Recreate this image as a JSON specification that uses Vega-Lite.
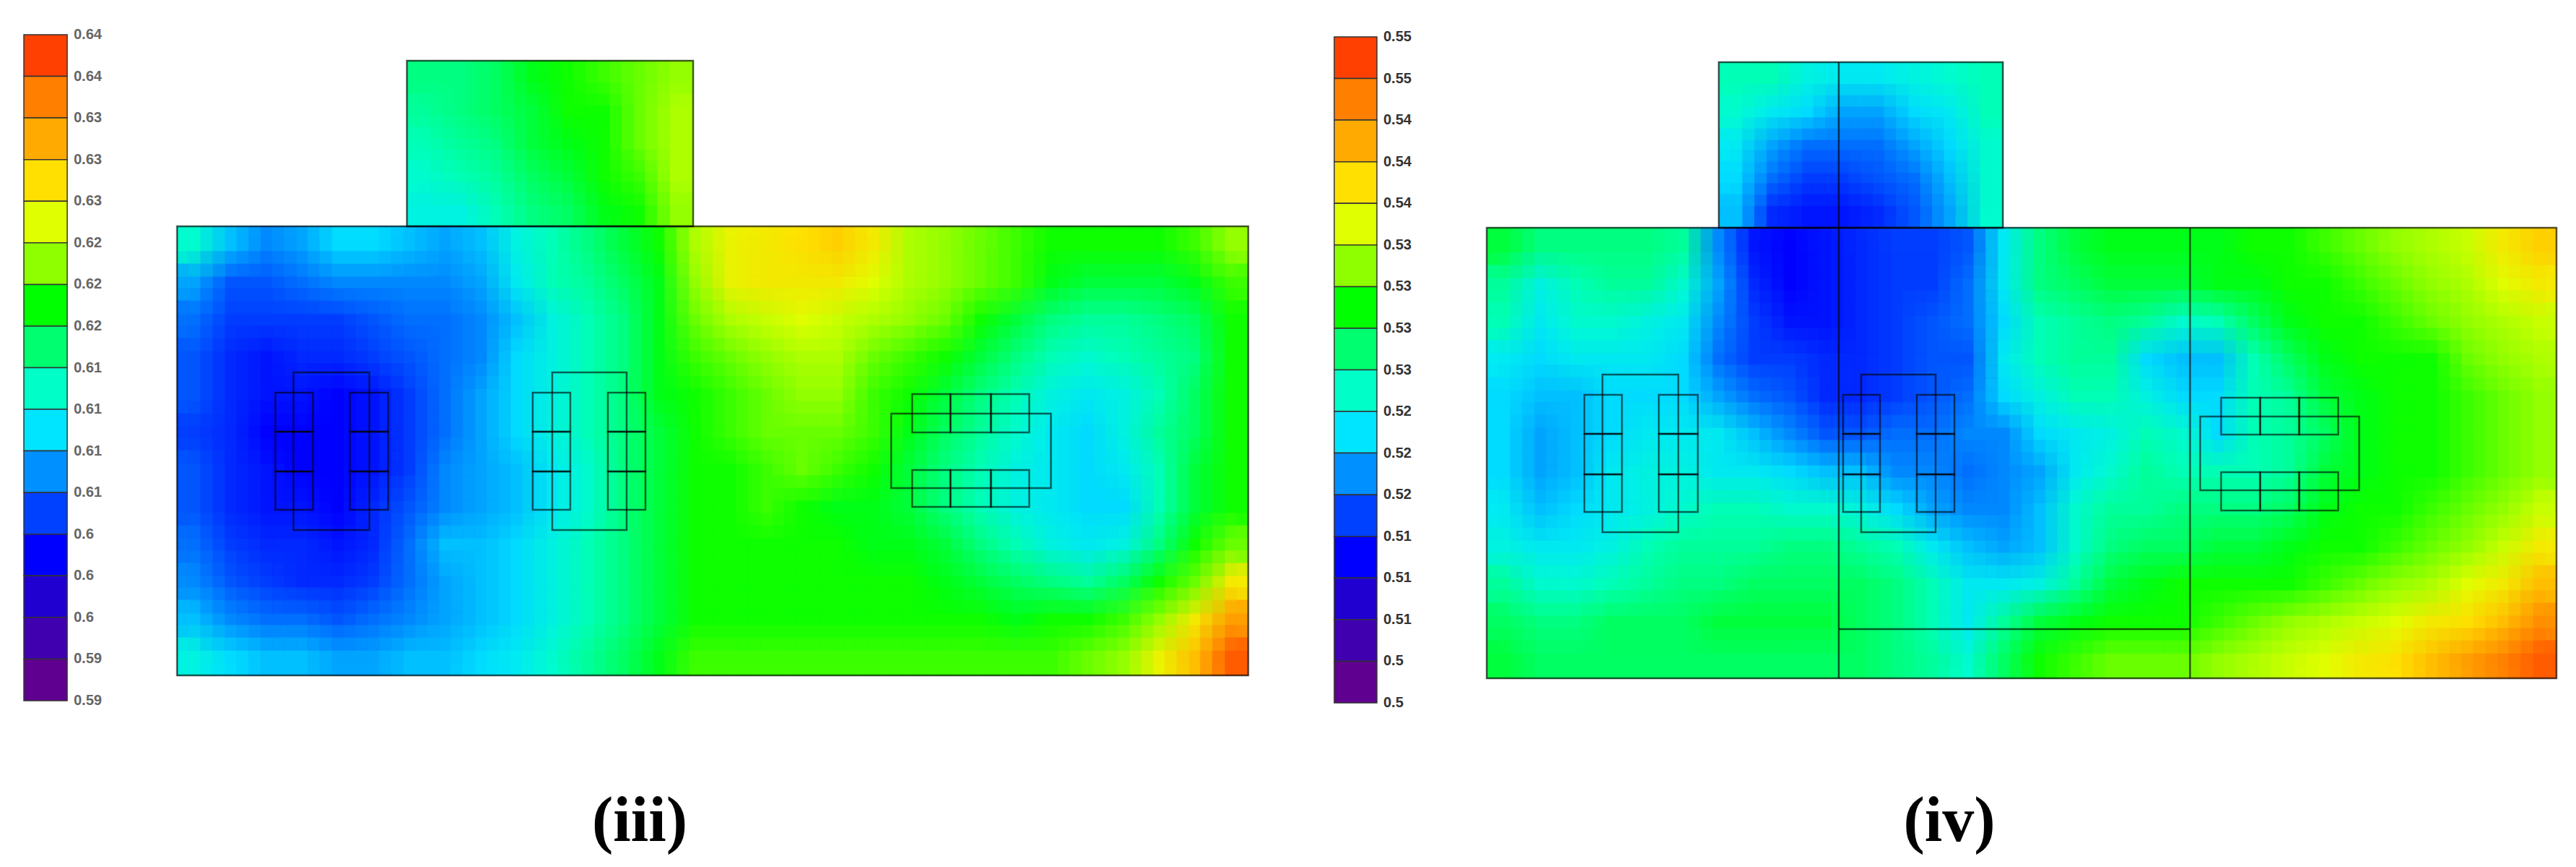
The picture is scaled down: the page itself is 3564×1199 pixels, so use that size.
{"$schema":"https://vega.github.io/schema/vega-lite/v6.json","width":3564,"height":1199,"autosize":{"type":"fit","contains":"padding"},"padding":0,"background":"white","config":{"view":{"stroke":null}},
"datasets":{
"m3":[
{"x":270,"y":339,"v":0.613},{"x":319,"y":339,"v":0.609},{"x":369,"y":339,"v":0.607},{"x":418,"y":339,"v":0.608},{"x":467,"y":339,"v":0.61},{"x":517,"y":339,"v":0.61},{"x":566,"y":339,"v":0.609},{"x":616,"y":339,"v":0.608},{"x":665,"y":339,"v":0.609},{"x":715,"y":339,"v":0.612},{"x":764,"y":339,"v":0.614},{"x":813,"y":339,"v":0.616},{"x":863,"y":339,"v":0.618},{"x":912,"y":339,"v":0.62},{"x":961,"y":339,"v":0.624},{"x":1011,"y":339,"v":0.627},{"x":1060,"y":339,"v":0.628},{"x":1110,"y":339,"v":0.629},{"x":1159,"y":339,"v":0.63},{"x":1208,"y":339,"v":0.628},{"x":1258,"y":339,"v":0.624},{"x":1307,"y":339,"v":0.623},{"x":1357,"y":339,"v":0.622},{"x":1406,"y":339,"v":0.621},{"x":1455,"y":339,"v":0.62},{"x":1505,"y":339,"v":0.62},{"x":1554,"y":339,"v":0.62},{"x":1604,"y":339,"v":0.62},{"x":1653,"y":339,"v":0.621},{"x":1702,"y":339,"v":0.623},
{"x":270,"y":391,"v":0.608},{"x":319,"y":391,"v":0.605},{"x":369,"y":391,"v":0.605},{"x":418,"y":391,"v":0.606},{"x":467,"y":391,"v":0.607},{"x":517,"y":391,"v":0.607},{"x":566,"y":391,"v":0.607},{"x":616,"y":391,"v":0.607},{"x":665,"y":391,"v":0.608},{"x":715,"y":391,"v":0.611},{"x":764,"y":391,"v":0.614},{"x":813,"y":391,"v":0.615},{"x":863,"y":391,"v":0.617},{"x":912,"y":391,"v":0.619},{"x":961,"y":391,"v":0.623},{"x":1011,"y":391,"v":0.627},{"x":1060,"y":391,"v":0.628},{"x":1110,"y":391,"v":0.628},{"x":1159,"y":391,"v":0.628},{"x":1208,"y":391,"v":0.626},{"x":1258,"y":391,"v":0.624},{"x":1307,"y":391,"v":0.623},{"x":1357,"y":391,"v":0.622},{"x":1406,"y":391,"v":0.621},{"x":1455,"y":391,"v":0.619},{"x":1505,"y":391,"v":0.618},{"x":1554,"y":391,"v":0.618},{"x":1604,"y":391,"v":0.618},{"x":1653,"y":391,"v":0.619},{"x":1702,"y":391,"v":0.621},
{"x":270,"y":442,"v":0.606},{"x":319,"y":442,"v":0.604},{"x":369,"y":442,"v":0.604},{"x":418,"y":442,"v":0.604},{"x":467,"y":442,"v":0.604},{"x":517,"y":442,"v":0.605},{"x":566,"y":442,"v":0.606},{"x":616,"y":442,"v":0.606},{"x":665,"y":442,"v":0.607},{"x":715,"y":442,"v":0.609},{"x":764,"y":442,"v":0.612},{"x":813,"y":442,"v":0.614},{"x":863,"y":442,"v":0.616},{"x":912,"y":442,"v":0.619},{"x":961,"y":442,"v":0.622},{"x":1011,"y":442,"v":0.624},{"x":1060,"y":442,"v":0.625},{"x":1110,"y":442,"v":0.626},{"x":1159,"y":442,"v":0.625},{"x":1208,"y":442,"v":0.624},{"x":1258,"y":442,"v":0.623},{"x":1307,"y":442,"v":0.622},{"x":1357,"y":442,"v":0.62},{"x":1406,"y":442,"v":0.618},{"x":1455,"y":442,"v":0.616},{"x":1505,"y":442,"v":0.615},{"x":1554,"y":442,"v":0.615},{"x":1604,"y":442,"v":0.616},{"x":1653,"y":442,"v":0.617},{"x":1702,"y":442,"v":0.62},
{"x":270,"y":494,"v":0.605},{"x":319,"y":494,"v":0.603},{"x":369,"y":494,"v":0.602},{"x":418,"y":494,"v":0.603},{"x":467,"y":494,"v":0.603},{"x":517,"y":494,"v":0.604},{"x":566,"y":494,"v":0.605},{"x":616,"y":494,"v":0.606},{"x":665,"y":494,"v":0.607},{"x":715,"y":494,"v":0.61},{"x":764,"y":494,"v":0.612},{"x":813,"y":494,"v":0.614},{"x":863,"y":494,"v":0.616},{"x":912,"y":494,"v":0.619},{"x":961,"y":494,"v":0.621},{"x":1011,"y":494,"v":0.622},{"x":1060,"y":494,"v":0.623},{"x":1110,"y":494,"v":0.624},{"x":1159,"y":494,"v":0.624},{"x":1208,"y":494,"v":0.622},{"x":1258,"y":494,"v":0.621},{"x":1307,"y":494,"v":0.62},{"x":1357,"y":494,"v":0.618},{"x":1406,"y":494,"v":0.616},{"x":1455,"y":494,"v":0.614},{"x":1505,"y":494,"v":0.613},{"x":1554,"y":494,"v":0.614},{"x":1604,"y":494,"v":0.615},{"x":1653,"y":494,"v":0.616},{"x":1702,"y":494,"v":0.62},
{"x":270,"y":546,"v":0.605},{"x":319,"y":546,"v":0.603},{"x":369,"y":546,"v":0.602},{"x":418,"y":546,"v":0.602},{"x":467,"y":546,"v":0.601},{"x":517,"y":546,"v":0.602},{"x":566,"y":546,"v":0.604},{"x":616,"y":546,"v":0.606},{"x":665,"y":546,"v":0.608},{"x":715,"y":546,"v":0.61},{"x":764,"y":546,"v":0.612},{"x":813,"y":546,"v":0.614},{"x":863,"y":546,"v":0.616},{"x":912,"y":546,"v":0.619},{"x":961,"y":546,"v":0.62},{"x":1011,"y":546,"v":0.621},{"x":1060,"y":546,"v":0.622},{"x":1110,"y":546,"v":0.623},{"x":1159,"y":546,"v":0.623},{"x":1208,"y":546,"v":0.621},{"x":1258,"y":546,"v":0.62},{"x":1307,"y":546,"v":0.618},{"x":1357,"y":546,"v":0.616},{"x":1406,"y":546,"v":0.614},{"x":1455,"y":546,"v":0.612},{"x":1505,"y":546,"v":0.611},{"x":1554,"y":546,"v":0.612},{"x":1604,"y":546,"v":0.614},{"x":1653,"y":546,"v":0.617},{"x":1702,"y":546,"v":0.62},
{"x":270,"y":598,"v":0.604},{"x":319,"y":598,"v":0.603},{"x":369,"y":598,"v":0.601},{"x":418,"y":598,"v":0.601},{"x":467,"y":598,"v":0.601},{"x":517,"y":598,"v":0.602},{"x":566,"y":598,"v":0.604},{"x":616,"y":598,"v":0.606},{"x":665,"y":598,"v":0.608},{"x":715,"y":598,"v":0.61},{"x":764,"y":598,"v":0.612},{"x":813,"y":598,"v":0.614},{"x":863,"y":598,"v":0.616},{"x":912,"y":598,"v":0.618},{"x":961,"y":598,"v":0.62},{"x":1011,"y":598,"v":0.621},{"x":1060,"y":598,"v":0.622},{"x":1110,"y":598,"v":0.622},{"x":1159,"y":598,"v":0.622},{"x":1208,"y":598,"v":0.621},{"x":1258,"y":598,"v":0.619},{"x":1307,"y":598,"v":0.617},{"x":1357,"y":598,"v":0.615},{"x":1406,"y":598,"v":0.613},{"x":1455,"y":598,"v":0.611},{"x":1505,"y":598,"v":0.61},{"x":1554,"y":598,"v":0.612},{"x":1604,"y":598,"v":0.615},{"x":1653,"y":598,"v":0.617},{"x":1702,"y":598,"v":0.62},
{"x":270,"y":649,"v":0.605},{"x":319,"y":649,"v":0.603},{"x":369,"y":649,"v":0.602},{"x":418,"y":649,"v":0.601},{"x":467,"y":649,"v":0.601},{"x":517,"y":649,"v":0.602},{"x":566,"y":649,"v":0.604},{"x":616,"y":649,"v":0.607},{"x":665,"y":649,"v":0.608},{"x":715,"y":649,"v":0.609},{"x":764,"y":649,"v":0.611},{"x":813,"y":649,"v":0.613},{"x":863,"y":649,"v":0.616},{"x":912,"y":649,"v":0.618},{"x":961,"y":649,"v":0.62},{"x":1011,"y":649,"v":0.62},{"x":1060,"y":649,"v":0.621},{"x":1110,"y":649,"v":0.622},{"x":1159,"y":649,"v":0.621},{"x":1208,"y":649,"v":0.62},{"x":1258,"y":649,"v":0.618},{"x":1307,"y":649,"v":0.616},{"x":1357,"y":649,"v":0.614},{"x":1406,"y":649,"v":0.612},{"x":1455,"y":649,"v":0.611},{"x":1505,"y":649,"v":0.61},{"x":1554,"y":649,"v":0.611},{"x":1604,"y":649,"v":0.614},{"x":1653,"y":649,"v":0.618},{"x":1702,"y":649,"v":0.62},
{"x":270,"y":701,"v":0.605},{"x":319,"y":701,"v":0.603},{"x":369,"y":701,"v":0.602},{"x":418,"y":701,"v":0.602},{"x":467,"y":701,"v":0.601},{"x":517,"y":701,"v":0.603},{"x":566,"y":701,"v":0.605},{"x":616,"y":701,"v":0.607},{"x":665,"y":701,"v":0.608},{"x":715,"y":701,"v":0.609},{"x":764,"y":701,"v":0.611},{"x":813,"y":701,"v":0.613},{"x":863,"y":701,"v":0.616},{"x":912,"y":701,"v":0.618},{"x":961,"y":701,"v":0.62},{"x":1011,"y":701,"v":0.62},{"x":1060,"y":701,"v":0.621},{"x":1110,"y":701,"v":0.62},{"x":1159,"y":701,"v":0.619},{"x":1208,"y":701,"v":0.619},{"x":1258,"y":701,"v":0.618},{"x":1307,"y":701,"v":0.616},{"x":1357,"y":701,"v":0.614},{"x":1406,"y":701,"v":0.612},{"x":1455,"y":701,"v":0.611},{"x":1505,"y":701,"v":0.61},{"x":1554,"y":701,"v":0.61},{"x":1604,"y":701,"v":0.614},{"x":1653,"y":701,"v":0.618},{"x":1702,"y":701,"v":0.62},
{"x":270,"y":753,"v":0.606},{"x":319,"y":753,"v":0.604},{"x":369,"y":753,"v":0.603},{"x":418,"y":753,"v":0.603},{"x":467,"y":753,"v":0.602},{"x":517,"y":753,"v":0.603},{"x":566,"y":753,"v":0.606},{"x":616,"y":753,"v":0.609},{"x":665,"y":753,"v":0.609},{"x":715,"y":753,"v":0.61},{"x":764,"y":753,"v":0.612},{"x":813,"y":753,"v":0.614},{"x":863,"y":753,"v":0.616},{"x":912,"y":753,"v":0.618},{"x":961,"y":753,"v":0.62},{"x":1011,"y":753,"v":0.62},{"x":1060,"y":753,"v":0.62},{"x":1110,"y":753,"v":0.62},{"x":1159,"y":753,"v":0.62},{"x":1208,"y":753,"v":0.619},{"x":1258,"y":753,"v":0.619},{"x":1307,"y":753,"v":0.618},{"x":1357,"y":753,"v":0.616},{"x":1406,"y":753,"v":0.614},{"x":1455,"y":753,"v":0.612},{"x":1505,"y":753,"v":0.611},{"x":1554,"y":753,"v":0.612},{"x":1604,"y":753,"v":0.616},{"x":1653,"y":753,"v":0.62},{"x":1702,"y":753,"v":0.622},
{"x":270,"y":805,"v":0.607},{"x":319,"y":805,"v":0.605},{"x":369,"y":805,"v":0.604},{"x":418,"y":805,"v":0.603},{"x":467,"y":805,"v":0.603},{"x":517,"y":805,"v":0.604},{"x":566,"y":805,"v":0.606},{"x":616,"y":805,"v":0.608},{"x":665,"y":805,"v":0.609},{"x":715,"y":805,"v":0.61},{"x":764,"y":805,"v":0.612},{"x":813,"y":805,"v":0.614},{"x":863,"y":805,"v":0.616},{"x":912,"y":805,"v":0.618},{"x":961,"y":805,"v":0.62},{"x":1011,"y":805,"v":0.62},{"x":1060,"y":805,"v":0.62},{"x":1110,"y":805,"v":0.62},{"x":1159,"y":805,"v":0.62},{"x":1208,"y":805,"v":0.62},{"x":1258,"y":805,"v":0.62},{"x":1307,"y":805,"v":0.619},{"x":1357,"y":805,"v":0.618},{"x":1406,"y":805,"v":0.617},{"x":1455,"y":805,"v":0.616},{"x":1505,"y":805,"v":0.615},{"x":1554,"y":805,"v":0.617},{"x":1604,"y":805,"v":0.62},{"x":1653,"y":805,"v":0.622},{"x":1702,"y":805,"v":0.628},
{"x":270,"y":856,"v":0.609},{"x":319,"y":856,"v":0.607},{"x":369,"y":856,"v":0.606},{"x":418,"y":856,"v":0.606},{"x":467,"y":856,"v":0.605},{"x":517,"y":856,"v":0.606},{"x":566,"y":856,"v":0.607},{"x":616,"y":856,"v":0.608},{"x":665,"y":856,"v":0.609},{"x":715,"y":856,"v":0.61},{"x":764,"y":856,"v":0.612},{"x":813,"y":856,"v":0.614},{"x":863,"y":856,"v":0.616},{"x":912,"y":856,"v":0.618},{"x":961,"y":856,"v":0.62},{"x":1011,"y":856,"v":0.62},{"x":1060,"y":856,"v":0.62},{"x":1110,"y":856,"v":0.62},{"x":1159,"y":856,"v":0.62},{"x":1208,"y":856,"v":0.62},{"x":1258,"y":856,"v":0.62},{"x":1307,"y":856,"v":0.62},{"x":1357,"y":856,"v":0.62},{"x":1406,"y":856,"v":0.619},{"x":1455,"y":856,"v":0.62},{"x":1505,"y":856,"v":0.62},{"x":1554,"y":856,"v":0.621},{"x":1604,"y":856,"v":0.623},{"x":1653,"y":856,"v":0.628},{"x":1702,"y":856,"v":0.633},
{"x":270,"y":908,"v":0.612},{"x":319,"y":908,"v":0.61},{"x":369,"y":908,"v":0.609},{"x":418,"y":908,"v":0.609},{"x":467,"y":908,"v":0.608},{"x":517,"y":908,"v":0.608},{"x":566,"y":908,"v":0.609},{"x":616,"y":908,"v":0.609},{"x":665,"y":908,"v":0.61},{"x":715,"y":908,"v":0.611},{"x":764,"y":908,"v":0.613},{"x":813,"y":908,"v":0.615},{"x":863,"y":908,"v":0.617},{"x":912,"y":908,"v":0.619},{"x":961,"y":908,"v":0.621},{"x":1011,"y":908,"v":0.621},{"x":1060,"y":908,"v":0.621},{"x":1110,"y":908,"v":0.621},{"x":1159,"y":908,"v":0.621},{"x":1208,"y":908,"v":0.621},{"x":1258,"y":908,"v":0.621},{"x":1307,"y":908,"v":0.621},{"x":1357,"y":908,"v":0.621},{"x":1406,"y":908,"v":0.621},{"x":1455,"y":908,"v":0.621},{"x":1505,"y":908,"v":0.622},{"x":1554,"y":908,"v":0.623},{"x":1604,"y":908,"v":0.627},{"x":1653,"y":908,"v":0.631},{"x":1702,"y":908,"v":0.637}
],
"r3":[
{"x":588,"y":107,"v":0.616},{"x":637,"y":107,"v":0.616},{"x":687,"y":107,"v":0.617},{"x":736,"y":107,"v":0.619},{"x":786,"y":107,"v":0.62},{"x":835,"y":107,"v":0.621},{"x":885,"y":107,"v":0.622},{"x":934,"y":107,"v":0.623},
{"x":588,"y":153,"v":0.615},{"x":637,"y":153,"v":0.616},{"x":687,"y":153,"v":0.617},{"x":736,"y":153,"v":0.618},{"x":786,"y":153,"v":0.62},{"x":835,"y":153,"v":0.62},{"x":885,"y":153,"v":0.622},{"x":934,"y":153,"v":0.624},
{"x":588,"y":199,"v":0.614},{"x":637,"y":199,"v":0.615},{"x":687,"y":199,"v":0.616},{"x":736,"y":199,"v":0.618},{"x":786,"y":199,"v":0.619},{"x":835,"y":199,"v":0.62},{"x":885,"y":199,"v":0.622},{"x":934,"y":199,"v":0.624},
{"x":588,"y":245,"v":0.613},{"x":637,"y":245,"v":0.614},{"x":687,"y":245,"v":0.615},{"x":736,"y":245,"v":0.617},{"x":786,"y":245,"v":0.618},{"x":835,"y":245,"v":0.62},{"x":885,"y":245,"v":0.621},{"x":934,"y":245,"v":0.624},
{"x":588,"y":290,"v":0.612},{"x":637,"y":290,"v":0.612},{"x":687,"y":290,"v":0.614},{"x":736,"y":290,"v":0.616},{"x":786,"y":290,"v":0.617},{"x":835,"y":290,"v":0.619},{"x":885,"y":290,"v":0.62},{"x":934,"y":290,"v":0.623}
],
"m4":[
{"x":2082,"y":341,"v":0.528},{"x":2131,"y":341,"v":0.526},{"x":2180,"y":341,"v":0.526},{"x":2230,"y":341,"v":0.526},{"x":2279,"y":341,"v":0.526},{"x":2328,"y":341,"v":0.525},{"x":2378,"y":341,"v":0.517},{"x":2427,"y":341,"v":0.512},{"x":2476,"y":341,"v":0.511},{"x":2526,"y":341,"v":0.512},{"x":2575,"y":341,"v":0.513},{"x":2624,"y":341,"v":0.514},{"x":2674,"y":341,"v":0.514},{"x":2723,"y":341,"v":0.515},{"x":2772,"y":341,"v":0.521},{"x":2822,"y":341,"v":0.526},{"x":2871,"y":341,"v":0.528},{"x":2920,"y":341,"v":0.529},{"x":2970,"y":341,"v":0.529},{"x":3019,"y":341,"v":0.529},{"x":3068,"y":341,"v":0.529},{"x":3118,"y":341,"v":0.53},{"x":3167,"y":341,"v":0.53},{"x":3216,"y":341,"v":0.531},{"x":3266,"y":341,"v":0.532},{"x":3315,"y":341,"v":0.533},{"x":3364,"y":341,"v":0.534},{"x":3414,"y":341,"v":0.535},{"x":3463,"y":341,"v":0.538},{"x":3512,"y":341,"v":0.54},
{"x":2082,"y":393,"v":0.525},{"x":2131,"y":393,"v":0.522},{"x":2180,"y":393,"v":0.524},{"x":2230,"y":393,"v":0.525},{"x":2279,"y":393,"v":0.525},{"x":2328,"y":393,"v":0.523},{"x":2378,"y":393,"v":0.518},{"x":2427,"y":393,"v":0.513},{"x":2476,"y":393,"v":0.511},{"x":2526,"y":393,"v":0.512},{"x":2575,"y":393,"v":0.513},{"x":2624,"y":393,"v":0.514},{"x":2674,"y":393,"v":0.514},{"x":2723,"y":393,"v":0.516},{"x":2772,"y":393,"v":0.521},{"x":2822,"y":393,"v":0.526},{"x":2871,"y":393,"v":0.527},{"x":2920,"y":393,"v":0.528},{"x":2970,"y":393,"v":0.528},{"x":3019,"y":393,"v":0.528},{"x":3068,"y":393,"v":0.529},{"x":3118,"y":393,"v":0.529},{"x":3167,"y":393,"v":0.53},{"x":3216,"y":393,"v":0.53},{"x":3266,"y":393,"v":0.531},{"x":3315,"y":393,"v":0.532},{"x":3364,"y":393,"v":0.533},{"x":3414,"y":393,"v":0.534},{"x":3463,"y":393,"v":0.536},{"x":3512,"y":393,"v":0.538},
{"x":2082,"y":445,"v":0.524},{"x":2131,"y":445,"v":0.521},{"x":2180,"y":445,"v":0.523},{"x":2230,"y":445,"v":0.523},{"x":2279,"y":445,"v":0.522},{"x":2328,"y":445,"v":0.521},{"x":2378,"y":445,"v":0.517},{"x":2427,"y":445,"v":0.514},{"x":2476,"y":445,"v":0.512},{"x":2526,"y":445,"v":0.512},{"x":2575,"y":445,"v":0.513},{"x":2624,"y":445,"v":0.514},{"x":2674,"y":445,"v":0.515},{"x":2723,"y":445,"v":0.516},{"x":2772,"y":445,"v":0.52},{"x":2822,"y":445,"v":0.524},{"x":2871,"y":445,"v":0.525},{"x":2920,"y":445,"v":0.526},{"x":2970,"y":445,"v":0.525},{"x":3019,"y":445,"v":0.523},{"x":3068,"y":445,"v":0.524},{"x":3118,"y":445,"v":0.527},{"x":3167,"y":445,"v":0.529},{"x":3216,"y":445,"v":0.53},{"x":3266,"y":445,"v":0.53},{"x":3315,"y":445,"v":0.531},{"x":3364,"y":445,"v":0.532},{"x":3414,"y":445,"v":0.533},{"x":3463,"y":445,"v":0.534},{"x":3512,"y":445,"v":0.535},
{"x":2082,"y":497,"v":0.521},{"x":2131,"y":497,"v":0.52},{"x":2180,"y":497,"v":0.521},{"x":2230,"y":497,"v":0.521},{"x":2279,"y":497,"v":0.521},{"x":2328,"y":497,"v":0.52},{"x":2378,"y":497,"v":0.516},{"x":2427,"y":497,"v":0.514},{"x":2476,"y":497,"v":0.514},{"x":2526,"y":497,"v":0.513},{"x":2575,"y":497,"v":0.513},{"x":2624,"y":497,"v":0.514},{"x":2674,"y":497,"v":0.515},{"x":2723,"y":497,"v":0.515},{"x":2772,"y":497,"v":0.521},{"x":2822,"y":497,"v":0.524},{"x":2871,"y":497,"v":0.525},{"x":2920,"y":497,"v":0.525},{"x":2970,"y":497,"v":0.52},{"x":3019,"y":497,"v":0.519},{"x":3068,"y":497,"v":0.519},{"x":3118,"y":497,"v":0.524},{"x":3167,"y":497,"v":0.527},{"x":3216,"y":497,"v":0.529},{"x":3266,"y":497,"v":0.53},{"x":3315,"y":497,"v":0.53},{"x":3364,"y":497,"v":0.53},{"x":3414,"y":497,"v":0.532},{"x":3463,"y":497,"v":0.533},{"x":3512,"y":497,"v":0.534},
{"x":2082,"y":548,"v":0.52},{"x":2131,"y":548,"v":0.519},{"x":2180,"y":548,"v":0.519},{"x":2230,"y":548,"v":0.52},{"x":2279,"y":548,"v":0.52},{"x":2328,"y":548,"v":0.52},{"x":2378,"y":548,"v":0.518},{"x":2427,"y":548,"v":0.516},{"x":2476,"y":548,"v":0.515},{"x":2526,"y":548,"v":0.513},{"x":2575,"y":548,"v":0.513},{"x":2624,"y":548,"v":0.514},{"x":2674,"y":548,"v":0.515},{"x":2723,"y":548,"v":0.516},{"x":2772,"y":548,"v":0.52},{"x":2822,"y":548,"v":0.522},{"x":2871,"y":548,"v":0.524},{"x":2920,"y":548,"v":0.524},{"x":2970,"y":548,"v":0.522},{"x":3019,"y":548,"v":0.52},{"x":3068,"y":548,"v":0.52},{"x":3118,"y":548,"v":0.524},{"x":3167,"y":548,"v":0.525},{"x":3216,"y":548,"v":0.528},{"x":3266,"y":548,"v":0.529},{"x":3315,"y":548,"v":0.53},{"x":3364,"y":548,"v":0.53},{"x":3414,"y":548,"v":0.531},{"x":3463,"y":548,"v":0.532},{"x":3512,"y":548,"v":0.533},
{"x":2082,"y":600,"v":0.52},{"x":2131,"y":600,"v":0.518},{"x":2180,"y":600,"v":0.519},{"x":2230,"y":600,"v":0.52},{"x":2279,"y":600,"v":0.521},{"x":2328,"y":600,"v":0.521},{"x":2378,"y":600,"v":0.521},{"x":2427,"y":600,"v":0.519},{"x":2476,"y":600,"v":0.517},{"x":2526,"y":600,"v":0.515},{"x":2575,"y":600,"v":0.515},{"x":2624,"y":600,"v":0.516},{"x":2674,"y":600,"v":0.516},{"x":2723,"y":600,"v":0.517},{"x":2772,"y":600,"v":0.517},{"x":2822,"y":600,"v":0.52},{"x":2871,"y":600,"v":0.521},{"x":2920,"y":600,"v":0.522},{"x":2970,"y":600,"v":0.524},{"x":3019,"y":600,"v":0.523},{"x":3068,"y":600,"v":0.52},{"x":3118,"y":600,"v":0.524},{"x":3167,"y":600,"v":0.525},{"x":3216,"y":600,"v":0.527},{"x":3266,"y":600,"v":0.529},{"x":3315,"y":600,"v":0.53},{"x":3364,"y":600,"v":0.53},{"x":3414,"y":600,"v":0.531},{"x":3463,"y":600,"v":0.532},{"x":3512,"y":600,"v":0.533},
{"x":2082,"y":652,"v":0.52},{"x":2131,"y":652,"v":0.518},{"x":2180,"y":652,"v":0.519},{"x":2230,"y":652,"v":0.521},{"x":2279,"y":652,"v":0.522},{"x":2328,"y":652,"v":0.522},{"x":2378,"y":652,"v":0.521},{"x":2427,"y":652,"v":0.521},{"x":2476,"y":652,"v":0.52},{"x":2526,"y":652,"v":0.519},{"x":2575,"y":652,"v":0.519},{"x":2624,"y":652,"v":0.517},{"x":2674,"y":652,"v":0.517},{"x":2723,"y":652,"v":0.516},{"x":2772,"y":652,"v":0.517},{"x":2822,"y":652,"v":0.518},{"x":2871,"y":652,"v":0.521},{"x":2920,"y":652,"v":0.523},{"x":2970,"y":652,"v":0.525},{"x":3019,"y":652,"v":0.524},{"x":3068,"y":652,"v":0.524},{"x":3118,"y":652,"v":0.524},{"x":3167,"y":652,"v":0.525},{"x":3216,"y":652,"v":0.528},{"x":3266,"y":652,"v":0.529},{"x":3315,"y":652,"v":0.53},{"x":3364,"y":652,"v":0.53},{"x":3414,"y":652,"v":0.531},{"x":3463,"y":652,"v":0.532},{"x":3512,"y":652,"v":0.533},
{"x":2082,"y":704,"v":0.521},{"x":2131,"y":704,"v":0.519},{"x":2180,"y":704,"v":0.52},{"x":2230,"y":704,"v":0.521},{"x":2279,"y":704,"v":0.522},{"x":2328,"y":704,"v":0.523},{"x":2378,"y":704,"v":0.524},{"x":2427,"y":704,"v":0.524},{"x":2476,"y":704,"v":0.523},{"x":2526,"y":704,"v":0.523},{"x":2575,"y":704,"v":0.522},{"x":2624,"y":704,"v":0.52},{"x":2674,"y":704,"v":0.518},{"x":2723,"y":704,"v":0.517},{"x":2772,"y":704,"v":0.517},{"x":2822,"y":704,"v":0.519},{"x":2871,"y":704,"v":0.523},{"x":2920,"y":704,"v":0.525},{"x":2970,"y":704,"v":0.525},{"x":3019,"y":704,"v":0.526},{"x":3068,"y":704,"v":0.526},{"x":3118,"y":704,"v":0.526},{"x":3167,"y":704,"v":0.527},{"x":3216,"y":704,"v":0.529},{"x":3266,"y":704,"v":0.53},{"x":3315,"y":704,"v":0.53},{"x":3364,"y":704,"v":0.531},{"x":3414,"y":704,"v":0.532},{"x":3463,"y":704,"v":0.533},{"x":3512,"y":704,"v":0.535},
{"x":2082,"y":756,"v":0.522},{"x":2131,"y":756,"v":0.521},{"x":2180,"y":756,"v":0.521},{"x":2230,"y":756,"v":0.522},{"x":2279,"y":756,"v":0.524},{"x":2328,"y":756,"v":0.525},{"x":2378,"y":756,"v":0.525},{"x":2427,"y":756,"v":0.525},{"x":2476,"y":756,"v":0.526},{"x":2526,"y":756,"v":0.526},{"x":2575,"y":756,"v":0.525},{"x":2624,"y":756,"v":0.524},{"x":2674,"y":756,"v":0.521},{"x":2723,"y":756,"v":0.519},{"x":2772,"y":756,"v":0.518},{"x":2822,"y":756,"v":0.519},{"x":2871,"y":756,"v":0.523},{"x":2920,"y":756,"v":0.526},{"x":2970,"y":756,"v":0.527},{"x":3019,"y":756,"v":0.527},{"x":3068,"y":756,"v":0.528},{"x":3118,"y":756,"v":0.528},{"x":3167,"y":756,"v":0.529},{"x":3216,"y":756,"v":0.53},{"x":3266,"y":756,"v":0.53},{"x":3315,"y":756,"v":0.531},{"x":3364,"y":756,"v":0.532},{"x":3414,"y":756,"v":0.533},{"x":3463,"y":756,"v":0.535},{"x":3512,"y":756,"v":0.538},
{"x":2082,"y":808,"v":0.525},{"x":2131,"y":808,"v":0.523},{"x":2180,"y":808,"v":0.523},{"x":2230,"y":808,"v":0.524},{"x":2279,"y":808,"v":0.525},{"x":2328,"y":808,"v":0.526},{"x":2378,"y":808,"v":0.526},{"x":2427,"y":808,"v":0.527},{"x":2476,"y":808,"v":0.527},{"x":2526,"y":808,"v":0.527},{"x":2575,"y":808,"v":0.527},{"x":2624,"y":808,"v":0.526},{"x":2674,"y":808,"v":0.524},{"x":2723,"y":808,"v":0.521},{"x":2772,"y":808,"v":0.521},{"x":2822,"y":808,"v":0.522},{"x":2871,"y":808,"v":0.525},{"x":2920,"y":808,"v":0.528},{"x":2970,"y":808,"v":0.529},{"x":3019,"y":808,"v":0.53},{"x":3068,"y":808,"v":0.53},{"x":3118,"y":808,"v":0.53},{"x":3167,"y":808,"v":0.53},{"x":3216,"y":808,"v":0.531},{"x":3266,"y":808,"v":0.532},{"x":3315,"y":808,"v":0.533},{"x":3364,"y":808,"v":0.534},{"x":3414,"y":808,"v":0.536},{"x":3463,"y":808,"v":0.538},{"x":3512,"y":808,"v":0.541},
{"x":2082,"y":860,"v":0.527},{"x":2131,"y":860,"v":0.526},{"x":2180,"y":860,"v":0.526},{"x":2230,"y":860,"v":0.527},{"x":2279,"y":860,"v":0.527},{"x":2328,"y":860,"v":0.527},{"x":2378,"y":860,"v":0.528},{"x":2427,"y":860,"v":0.528},{"x":2476,"y":860,"v":0.528},{"x":2526,"y":860,"v":0.528},{"x":2575,"y":860,"v":0.527},{"x":2624,"y":860,"v":0.526},{"x":2674,"y":860,"v":0.524},{"x":2723,"y":860,"v":0.521},{"x":2772,"y":860,"v":0.525},{"x":2822,"y":860,"v":0.528},{"x":2871,"y":860,"v":0.529},{"x":2920,"y":860,"v":0.53},{"x":2970,"y":860,"v":0.53},{"x":3019,"y":860,"v":0.53},{"x":3068,"y":860,"v":0.531},{"x":3118,"y":860,"v":0.532},{"x":3167,"y":860,"v":0.533},{"x":3216,"y":860,"v":0.534},{"x":3266,"y":860,"v":0.535},{"x":3315,"y":860,"v":0.536},{"x":3364,"y":860,"v":0.538},{"x":3414,"y":860,"v":0.539},{"x":3463,"y":860,"v":0.541},{"x":3512,"y":860,"v":0.544},
{"x":2082,"y":912,"v":0.528},{"x":2131,"y":912,"v":0.527},{"x":2180,"y":912,"v":0.527},{"x":2230,"y":912,"v":0.527},{"x":2279,"y":912,"v":0.527},{"x":2328,"y":912,"v":0.527},{"x":2378,"y":912,"v":0.527},{"x":2427,"y":912,"v":0.527},{"x":2476,"y":912,"v":0.527},{"x":2526,"y":912,"v":0.527},{"x":2575,"y":912,"v":0.527},{"x":2624,"y":912,"v":0.526},{"x":2674,"y":912,"v":0.525},{"x":2723,"y":912,"v":0.523},{"x":2772,"y":912,"v":0.527},{"x":2822,"y":912,"v":0.53},{"x":2871,"y":912,"v":0.531},{"x":2920,"y":912,"v":0.532},{"x":2970,"y":912,"v":0.532},{"x":3019,"y":912,"v":0.532},{"x":3068,"y":912,"v":0.533},{"x":3118,"y":912,"v":0.534},{"x":3167,"y":912,"v":0.535},{"x":3216,"y":912,"v":0.536},{"x":3266,"y":912,"v":0.538},{"x":3315,"y":912,"v":0.539},{"x":3364,"y":912,"v":0.541},{"x":3414,"y":912,"v":0.543},{"x":3463,"y":912,"v":0.545},{"x":3512,"y":912,"v":0.547}
],
"r4":[
{"x":2403,"y":109,"v":0.524},{"x":2452,"y":109,"v":0.524},{"x":2501,"y":109,"v":0.522},{"x":2550,"y":109,"v":0.521},{"x":2599,"y":109,"v":0.521},{"x":2648,"y":109,"v":0.522},{"x":2698,"y":109,"v":0.523},{"x":2747,"y":109,"v":0.524},
{"x":2403,"y":155,"v":0.523},{"x":2452,"y":155,"v":0.521},{"x":2501,"y":155,"v":0.52},{"x":2550,"y":155,"v":0.518},{"x":2599,"y":155,"v":0.518},{"x":2648,"y":155,"v":0.52},{"x":2698,"y":155,"v":0.521},{"x":2747,"y":155,"v":0.524},
{"x":2403,"y":201,"v":0.521},{"x":2452,"y":201,"v":0.518},{"x":2501,"y":201,"v":0.516},{"x":2550,"y":201,"v":0.516},{"x":2599,"y":201,"v":0.516},{"x":2648,"y":201,"v":0.518},{"x":2698,"y":201,"v":0.52},{"x":2747,"y":201,"v":0.523},
{"x":2403,"y":246,"v":0.52},{"x":2452,"y":246,"v":0.516},{"x":2501,"y":246,"v":0.514},{"x":2550,"y":246,"v":0.514},{"x":2599,"y":246,"v":0.515},{"x":2648,"y":246,"v":0.516},{"x":2698,"y":246,"v":0.519},{"x":2747,"y":246,"v":0.523},
{"x":2403,"y":292,"v":0.519},{"x":2452,"y":292,"v":0.513},{"x":2501,"y":292,"v":0.512},{"x":2550,"y":292,"v":0.512},{"x":2599,"y":292,"v":0.513},{"x":2648,"y":292,"v":0.515},{"x":2698,"y":292,"v":0.518},{"x":2747,"y":292,"v":0.523}
],
"key3":[
{"x":33,"x2":93,"y":48,"y2":105.6,"v":0.6384},{"x":33,"x2":93,"y":105.6,"y2":163.1,"v":0.6353},{"x":33,"x2":93,"y":163.1,"y2":220.7,"v":0.6322},{"x":33,"x2":93,"y":220.7,"y2":278.2,"v":0.6291},{"x":33,"x2":93,"y":278.2,"y2":335.8,"v":0.6259},{"x":33,"x2":93,"y":335.8,"y2":393.4,"v":0.6228},{"x":33,"x2":93,"y":393.4,"y2":450.9,"v":0.6197},{"x":33,"x2":93,"y":450.9,"y2":508.5,"v":0.6166},{"x":33,"x2":93,"y":508.5,"y2":566,"v":0.6134},{"x":33,"x2":93,"y":566,"y2":623.6,"v":0.6103},{"x":33,"x2":93,"y":623.6,"y2":681.2,"v":0.6072},{"x":33,"x2":93,"y":681.2,"y2":738.7,"v":0.6041},{"x":33,"x2":93,"y":738.7,"y2":796.3,"v":0.6009},{"x":33,"x2":93,"y":796.3,"y2":853.8,"v":0.5978},{"x":33,"x2":93,"y":853.8,"y2":911.4,"v":0.5947},{"x":33,"x2":93,"y":911.4,"y2":969,"v":0.5916}
],
"key4":[
{"x":1846,"x2":1905,"y":51,"y2":108.6,"v":0.5484},{"x":1846,"x2":1905,"y":108.6,"y2":166.1,"v":0.5453},{"x":1846,"x2":1905,"y":166.1,"y2":223.7,"v":0.5422},{"x":1846,"x2":1905,"y":223.7,"y2":281.2,"v":0.5391},{"x":1846,"x2":1905,"y":281.2,"y2":338.8,"v":0.5359},{"x":1846,"x2":1905,"y":338.8,"y2":396.4,"v":0.5328},{"x":1846,"x2":1905,"y":396.4,"y2":453.9,"v":0.5297},{"x":1846,"x2":1905,"y":453.9,"y2":511.5,"v":0.5266},{"x":1846,"x2":1905,"y":511.5,"y2":569,"v":0.5234},{"x":1846,"x2":1905,"y":569,"y2":626.6,"v":0.5203},{"x":1846,"x2":1905,"y":626.6,"y2":684.2,"v":0.5172},{"x":1846,"x2":1905,"y":684.2,"y2":741.7,"v":0.5141},{"x":1846,"x2":1905,"y":741.7,"y2":799.3,"v":0.5109},{"x":1846,"x2":1905,"y":799.3,"y2":856.8,"v":0.5078},{"x":1846,"x2":1905,"y":856.8,"y2":914.4,"v":0.5047},{"x":1846,"x2":1905,"y":914.4,"y2":972,"v":0.5016}
],
"labels3":[
{"x":102,"y":48,"t":"0.64"},{"x":102,"y":105.6,"t":"0.64"},{"x":102,"y":163.1,"t":"0.63"},{"x":102,"y":220.7,"t":"0.63"},{"x":102,"y":278.2,"t":"0.63"},{"x":102,"y":335.8,"t":"0.62"},{"x":102,"y":393.4,"t":"0.62"},{"x":102,"y":450.9,"t":"0.62"},{"x":102,"y":508.5,"t":"0.61"},{"x":102,"y":566,"t":"0.61"},{"x":102,"y":623.6,"t":"0.61"},{"x":102,"y":681.2,"t":"0.61"},{"x":102,"y":738.7,"t":"0.6"},{"x":102,"y":796.3,"t":"0.6"},{"x":102,"y":853.8,"t":"0.6"},{"x":102,"y":911.4,"t":"0.59"},{"x":102,"y":969,"t":"0.59"}
],
"labels4":[
{"x":1914,"y":51,"t":"0.55"},{"x":1914,"y":108.6,"t":"0.55"},{"x":1914,"y":166.1,"t":"0.54"},{"x":1914,"y":223.7,"t":"0.54"},{"x":1914,"y":281.2,"t":"0.54"},{"x":1914,"y":338.8,"t":"0.53"},{"x":1914,"y":396.4,"t":"0.53"},{"x":1914,"y":453.9,"t":"0.53"},{"x":1914,"y":511.5,"t":"0.53"},{"x":1914,"y":569,"t":"0.52"},{"x":1914,"y":626.6,"t":"0.52"},{"x":1914,"y":684.2,"t":"0.52"},{"x":1914,"y":741.7,"t":"0.51"},{"x":1914,"y":799.3,"t":"0.51"},{"x":1914,"y":856.8,"t":"0.51"},{"x":1914,"y":914.4,"t":"0.5"},{"x":1914,"y":972,"t":"0.5"}
],
"walls":[
{"x":245,"x2":1727,"y":313,"y2":934},{"x":563,"x2":959,"y":84,"y2":313},{"x":2057,"x2":3537,"y":315,"y2":938},{"x":2378,"x2":2771,"y":86,"y2":315},{"x":2544,"x2":2544,"y":86,"y2":938},{"x":3030,"x2":3030,"y":315,"y2":938},{"x":2544,"x2":3030,"y":870,"y2":870}
],
"fixtures":[
{"x":406,"x2":511,"y":515,"y2":733},{"x":764,"x2":867,"y":515,"y2":733},{"x":1233,"x2":1454,"y":572,"y2":675},
{"x":381,"x2":433,"y":543,"y2":597},{"x":381,"x2":433,"y":597,"y2":652},{"x":381,"x2":433,"y":652,"y2":705},
{"x":484,"x2":537,"y":543,"y2":597},{"x":484,"x2":537,"y":597,"y2":652},{"x":484,"x2":537,"y":652,"y2":705},
{"x":737,"x2":789,"y":543,"y2":597},{"x":737,"x2":789,"y":597,"y2":652},{"x":737,"x2":789,"y":652,"y2":705},
{"x":841,"x2":893,"y":543,"y2":597},{"x":841,"x2":893,"y":597,"y2":652},{"x":841,"x2":893,"y":652,"y2":705},
{"x":1262,"x2":1315,"y":545,"y2":598},{"x":1315,"x2":1371,"y":545,"y2":598},{"x":1371,"x2":1424,"y":545,"y2":598},
{"x":1262,"x2":1315,"y":650,"y2":701},{"x":1315,"x2":1371,"y":650,"y2":701},{"x":1371,"x2":1424,"y":650,"y2":701},
{"x":2217,"x2":2322,"y":518,"y2":736},{"x":2575,"x2":2678,"y":518,"y2":736},{"x":3044,"x2":3264,"y":576,"y2":678},
{"x":2192,"x2":2244,"y":546,"y2":600},{"x":2192,"x2":2244,"y":600,"y2":656},{"x":2192,"x2":2244,"y":656,"y2":708},
{"x":2295,"x2":2349,"y":546,"y2":600},{"x":2295,"x2":2349,"y":600,"y2":656},{"x":2295,"x2":2349,"y":656,"y2":708},
{"x":2550,"x2":2601,"y":546,"y2":600},{"x":2550,"x2":2601,"y":600,"y2":656},{"x":2550,"x2":2601,"y":656,"y2":708},
{"x":2652,"x2":2704,"y":546,"y2":600},{"x":2652,"x2":2704,"y":600,"y2":656},{"x":2652,"x2":2704,"y":656,"y2":708},
{"x":3073,"x2":3127,"y":550,"y2":601},{"x":3127,"x2":3181,"y":550,"y2":601},{"x":3181,"x2":3235,"y":550,"y2":601},
{"x":3073,"x2":3127,"y":653,"y2":706},{"x":3127,"x2":3181,"y":653,"y2":706},{"x":3181,"x2":3235,"y":653,"y2":706}
],
"captions":[{"x":885,"y":1163,"t":"(iii)"},{"x":2697,"y":1163,"t":"(iv)"}]
},
"encoding":{"x":{"field":"x","type":"quantitative","axis":null,"scale":{"domain":[0,3564],"nice":false,"zero":false}},"y":{"field":"y","type":"quantitative","axis":null,"scale":{"domain":[1199,0],"nice":false,"zero":false}}},
"resolve":{"scale":{"color":"independent"}},
"layer":[
{"encoding":{"color":{"field":"v","type":"quantitative","legend":null,"scale":{"type":"linear","interpolate":"rgb","clamp":true,"domain":[0.5916,0.5947,0.5978,0.6009,0.6041,0.6072,0.6103,0.6134,0.6166,0.6197,0.6228,0.6259,0.6291,0.6322,0.6353,0.6384],"range":["#600090","#4000b0","#2000d0","#0000ff","#0040ff","#0090ff","#00e5ff","#00ffc8","#00ff70","#00ff00","#8fff00","#e0ff00","#ffe000","#ffaa00","#ff7f00","#ff4000"]}}},
"layer":[
{"data":{"name":"r3"},"mark":{"type":"rect","width":50.5,"height":46.8}},
{"data":{"name":"r3"},"transform":[{"filter":"datum.x>588"}],"mark":{"type":"rect","width":50.5,"height":46.8,"xOffset":-16.5,"opacity":0.5}},
{"data":{"name":"r3"},"transform":[{"filter":"datum.x<934"}],"mark":{"type":"rect","width":50.5,"height":46.8,"xOffset":16.5,"opacity":0.333}},
{"data":{"name":"r3"},"transform":[{"filter":"datum.y>107"}],"mark":{"type":"rect","width":50.5,"height":46.8,"yOffset":-15.3,"opacity":0.25}},
{"data":{"name":"r3"},"transform":[{"filter":"datum.y<290"}],"mark":{"type":"rect","width":50.5,"height":46.8,"yOffset":15.3,"opacity":0.2}},
{"data":{"name":"r3"},"transform":[{"filter":"datum.x>588 && datum.y>107"}],"mark":{"type":"rect","width":50.5,"height":46.8,"xOffset":-16.5,"yOffset":-15.3,"opacity":0.167}},
{"data":{"name":"r3"},"transform":[{"filter":"datum.x<934 && datum.y>107"}],"mark":{"type":"rect","width":50.5,"height":46.8,"xOffset":16.5,"yOffset":-15.3,"opacity":0.143}},
{"data":{"name":"r3"},"transform":[{"filter":"datum.x>588 && datum.y<290"}],"mark":{"type":"rect","width":50.5,"height":46.8,"xOffset":-16.5,"yOffset":15.3,"opacity":0.125}},
{"data":{"name":"r3"},"transform":[{"filter":"datum.x<934 && datum.y<290"}],"mark":{"type":"rect","width":50.5,"height":46.8,"xOffset":16.5,"yOffset":15.3,"opacity":0.111}},
{"data":{"name":"m3"},"mark":{"type":"rect","width":50.4,"height":52.8}},
{"data":{"name":"m3"},"transform":[{"filter":"datum.x>270"}],"mark":{"type":"rect","width":50.4,"height":52.8,"xOffset":-16.5,"opacity":0.5}},
{"data":{"name":"m3"},"transform":[{"filter":"datum.x<1702"}],"mark":{"type":"rect","width":50.4,"height":52.8,"xOffset":16.5,"opacity":0.333}},
{"data":{"name":"m3"},"transform":[{"filter":"datum.y>339"}],"mark":{"type":"rect","width":50.4,"height":52.8,"yOffset":-17.25,"opacity":0.25}},
{"data":{"name":"m3"},"transform":[{"filter":"datum.y<908"}],"mark":{"type":"rect","width":50.4,"height":52.8,"yOffset":17.25,"opacity":0.2}},
{"data":{"name":"m3"},"transform":[{"filter":"datum.x>270 && datum.y>339"}],"mark":{"type":"rect","width":50.4,"height":52.8,"xOffset":-16.5,"yOffset":-17.25,"opacity":0.167}},
{"data":{"name":"m3"},"transform":[{"filter":"datum.x<1702 && datum.y>339"}],"mark":{"type":"rect","width":50.4,"height":52.8,"xOffset":16.5,"yOffset":-17.25,"opacity":0.143}},
{"data":{"name":"m3"},"transform":[{"filter":"datum.x>270 && datum.y<908"}],"mark":{"type":"rect","width":50.4,"height":52.8,"xOffset":-16.5,"yOffset":17.25,"opacity":0.125}},
{"data":{"name":"m3"},"transform":[{"filter":"datum.x<1702 && datum.y<908"}],"mark":{"type":"rect","width":50.4,"height":52.8,"xOffset":16.5,"yOffset":17.25,"opacity":0.111}},
{"data":{"name":"key3"},"mark":{"type":"rect","stroke":"#333","strokeWidth":1.5},"encoding":{"x2":{"field":"x2"},"y2":{"field":"y2"}}}
]},
{"encoding":{"color":{"field":"v","type":"quantitative","legend":null,"scale":{"type":"linear","interpolate":"rgb","clamp":true,"domain":[0.5016,0.5047,0.5078,0.5109,0.5141,0.5172,0.5203,0.5234,0.5266,0.5297,0.5328,0.5359,0.5391,0.5422,0.5453,0.5484],"range":["#600090","#4000b0","#2000d0","#0000ff","#0040ff","#0090ff","#00e5ff","#00ffc8","#00ff70","#00ff00","#8fff00","#e0ff00","#ffe000","#ffaa00","#ff7f00","#ff4000"]}}},
"layer":[
{"data":{"name":"r4"},"mark":{"type":"rect","width":50.1,"height":46.8}},
{"data":{"name":"r4"},"transform":[{"filter":"datum.x>2403"}],"mark":{"type":"rect","width":50.1,"height":46.8,"xOffset":-16.4,"opacity":0.5}},
{"data":{"name":"r4"},"transform":[{"filter":"datum.x<2747"}],"mark":{"type":"rect","width":50.1,"height":46.8,"xOffset":16.4,"opacity":0.333}},
{"data":{"name":"r4"},"transform":[{"filter":"datum.y>109"}],"mark":{"type":"rect","width":50.1,"height":46.8,"yOffset":-15.3,"opacity":0.25}},
{"data":{"name":"r4"},"transform":[{"filter":"datum.y<292"}],"mark":{"type":"rect","width":50.1,"height":46.8,"yOffset":15.3,"opacity":0.2}},
{"data":{"name":"r4"},"transform":[{"filter":"datum.x>2403 && datum.y>109"}],"mark":{"type":"rect","width":50.1,"height":46.8,"xOffset":-16.4,"yOffset":-15.3,"opacity":0.167}},
{"data":{"name":"r4"},"transform":[{"filter":"datum.x<2747 && datum.y>109"}],"mark":{"type":"rect","width":50.1,"height":46.8,"xOffset":16.4,"yOffset":-15.3,"opacity":0.143}},
{"data":{"name":"r4"},"transform":[{"filter":"datum.x>2403 && datum.y<292"}],"mark":{"type":"rect","width":50.1,"height":46.8,"xOffset":-16.4,"yOffset":15.3,"opacity":0.125}},
{"data":{"name":"r4"},"transform":[{"filter":"datum.x<2747 && datum.y<292"}],"mark":{"type":"rect","width":50.1,"height":46.8,"xOffset":16.4,"yOffset":15.3,"opacity":0.111}},
{"data":{"name":"m4"},"mark":{"type":"rect","width":50.3,"height":52.9}},
{"data":{"name":"m4"},"transform":[{"filter":"datum.x>2082"}],"mark":{"type":"rect","width":50.3,"height":52.9,"xOffset":-16.4,"opacity":0.5}},
{"data":{"name":"m4"},"transform":[{"filter":"datum.x<3512"}],"mark":{"type":"rect","width":50.3,"height":52.9,"xOffset":16.4,"opacity":0.333}},
{"data":{"name":"m4"},"transform":[{"filter":"datum.y>341"}],"mark":{"type":"rect","width":50.3,"height":52.9,"yOffset":-17.3,"opacity":0.25}},
{"data":{"name":"m4"},"transform":[{"filter":"datum.y<912"}],"mark":{"type":"rect","width":50.3,"height":52.9,"yOffset":17.3,"opacity":0.2}},
{"data":{"name":"m4"},"transform":[{"filter":"datum.x>2082 && datum.y>341"}],"mark":{"type":"rect","width":50.3,"height":52.9,"xOffset":-16.4,"yOffset":-17.3,"opacity":0.167}},
{"data":{"name":"m4"},"transform":[{"filter":"datum.x<3512 && datum.y>341"}],"mark":{"type":"rect","width":50.3,"height":52.9,"xOffset":16.4,"yOffset":-17.3,"opacity":0.143}},
{"data":{"name":"m4"},"transform":[{"filter":"datum.x>2082 && datum.y<912"}],"mark":{"type":"rect","width":50.3,"height":52.9,"xOffset":-16.4,"yOffset":17.3,"opacity":0.125}},
{"data":{"name":"m4"},"transform":[{"filter":"datum.x<3512 && datum.y<912"}],"mark":{"type":"rect","width":50.3,"height":52.9,"xOffset":16.4,"yOffset":17.3,"opacity":0.111}},
{"data":{"name":"key4"},"mark":{"type":"rect","stroke":"#333","strokeWidth":1.5},"encoding":{"x2":{"field":"x2"},"y2":{"field":"y2"}}}
]},
{"data":{"name":"walls"},"mark":{"type":"rect","fill":"transparent","stroke":"#000","strokeOpacity":0.65,"strokeWidth":2.5},"encoding":{"x2":{"field":"x2"},"y2":{"field":"y2"}}},
{"data":{"name":"fixtures"},"mark":{"type":"rect","fill":"transparent","stroke":"#000","strokeOpacity":0.6,"strokeWidth":2.5},"encoding":{"x2":{"field":"x2"},"y2":{"field":"y2"}}},
{"data":{"name":"labels3"},"mark":{"type":"text","align":"left","baseline":"middle","font":"Liberation Sans","fontWeight":"bold","fontSize":20,"fill":"#666"},"encoding":{"text":{"field":"t"}}},
{"data":{"name":"labels4"},"mark":{"type":"text","align":"left","baseline":"middle","font":"Liberation Sans","fontWeight":"bold","fontSize":20,"fill":"#333"},"encoding":{"text":{"field":"t"}}},
{"data":{"name":"captions"},"mark":{"type":"text","align":"center","baseline":"alphabetic","font":"Liberation Serif","fontWeight":"bold","fontSize":88,"fill":"#000"},"encoding":{"text":{"field":"t"}}}
]}
